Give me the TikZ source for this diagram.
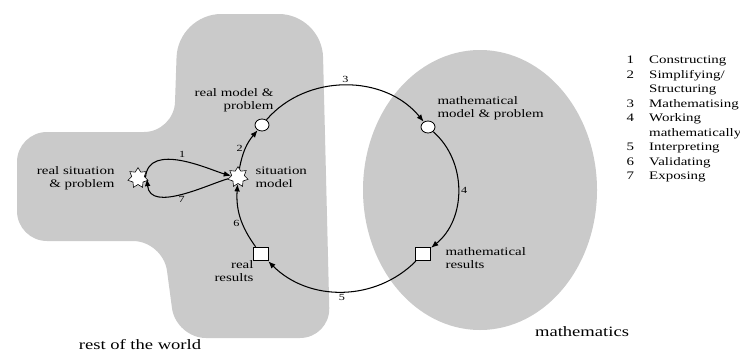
\documentclass[tikz,border=0pt]{standalone}
\usepackage{fontspec}
\setmainfont{Liberation Serif}[FakeStretch=1.3]
\usetikzlibrary{arrows.meta, positioning, shapes.geometric}
\definecolor{cworld}{HTML}{CACACA}
\tikzset{
  every picture/.style={line width=0.9pt},
  sit/.style={star, star points=7, star point ratio=1.6, draw, line width=0.5pt, fill=white, minimum size=0.62cm, inner sep=0pt},
  model/.style={ellipse, draw, line width=0.7pt, fill=white, minimum width=0.42cm, minimum height=0.36cm, inner sep=0pt},
  result/.style={draw, line width=0.9pt, fill=white, minimum width=0.45cm, minimum height=0.4cm, inner sep=0pt},
  arrow/.style={-{Latex[length=2.2mm, width=1.7mm]}, line width=0.9pt},
  lbl/.style={font=\fontsize{9.8}{11.5}\selectfont, inner sep=0pt},
  num/.style={font=\fontsize{8}{9}\selectfont, inner sep=2pt},
  area/.style={font=\fontsize{12.2}{14}\selectfont, inner sep=0pt},
}
\begin{document}
\begin{tikzpicture}[x=0.03cm, y=0.03cm]
  \clip (0,0) rectangle (740,353);
  % the two worlds
  \fill[cworld, rounded corners=1cm] (330,15) [rounded corners=1.3cm] -- (322,339) -- (178,339) [rounded corners=0.9cm] -- (174,221) -- (17,221) -- (17,112) -- (163,112) -- (176,15) -- cycle;
  \fill[cworld] (480,163) ellipse [x radius=117, y radius=140];

  % stations of the cycle
  \node[sit] (rsit) at (138,175) {};
  \node[sit] (smodel) at (238,176) {};
  \node[model] (rmodel) at (262,228) {};
  \node[model] (mmodel) at (428,226) {};
  \node[result] (mres) at (423,99) {};
  \node[result] (rres) at (261,99) {};

  \node[lbl, align=right, anchor=east] (rsittxt) at (115,175) {real situation\\\& problem};
  \node[lbl, align=left, anchor=west] (smodeltxt) at (255,176) {situation\\model};
  \node[lbl, align=right, anchor=east] (rmodeltxt) at (274,253) {real model \&\\problem};
  \node[lbl, align=left, anchor=west] (mmodeltxt) at (437,245) {mathematical\\model \& problem};
  \node[lbl, align=left, anchor=west] (mrestxt) at (445,95) {mathematical\\results};
  \node[lbl, align=right, anchor=east] (rrestxt) at (254,82) {real\\results};
  \node[area] (world) at (140,8) {rest of the world};
  \node[area] (maths) at (582,21) {mathematics};

  % steps
  \draw[arrow] (rsit.5) to[out=85, in=165, out looseness=1.1, in looseness=0.6] node[num, above] {1} (smodel.170);
  \draw[arrow] (smodel.190) to[out=195, in=-85, out looseness=0.6, in looseness=1.1] node[num, below] {7} (rsit.355);
  \draw[arrow] (smodel) to[bend left=15] node[num, left] {2} (rmodel);
  \draw[arrow] (rmodel) to[bend left=50] node[num, above] {3} (mmodel);
  \draw[arrow] (mmodel) to[bend left=50] node[num, right] {4} (mres);
  \draw[arrow] (mres) to[bend left=45] node[num, below] {5} (rres);
  \draw[arrow] (rres) to[bend left=20] node[num, left, pos=0.4] {6} (smodel);

  % legend
  \node[lbl, anchor=north west, font=\fontsize{9.8}{12.4}\selectfont] (legend) at (626,300) {%
    \begin{tabular}{@{}l@{\hspace{13pt}}l@{}}
      1 & Constructing\\
      2 & Simplifying/\\
        & Structuring\\
      3 & Mathematising\\
      4 & Working\\
        & mathematically\\
      5 & Interpreting\\
      6 & Validating\\
      7 & Exposing
    \end{tabular}};
\end{tikzpicture}
\end{document}
